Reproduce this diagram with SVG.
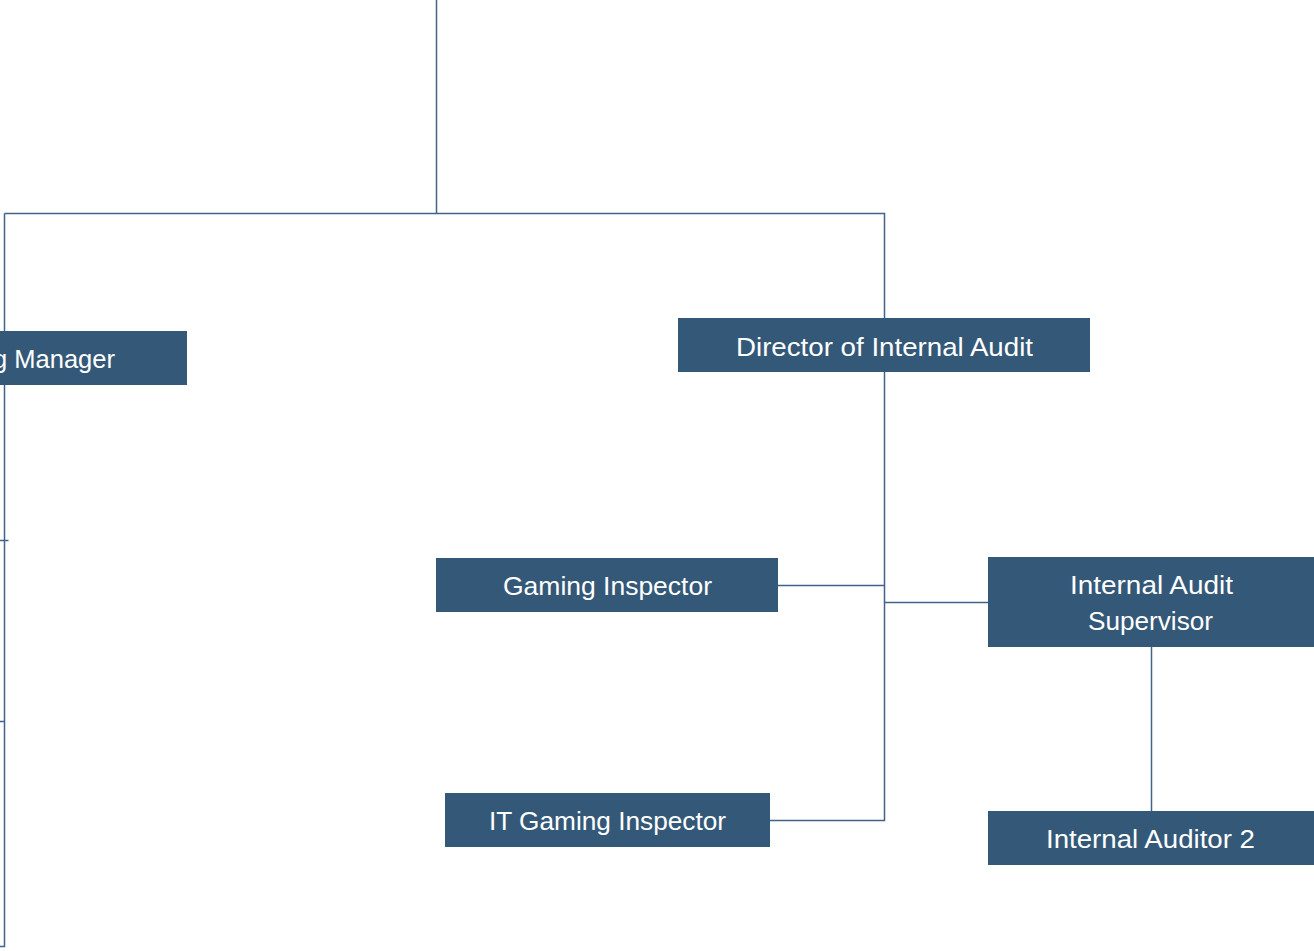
<svg xmlns="http://www.w3.org/2000/svg" width="1314" height="951" viewBox="0 0 1314 951">
<style>
.box{fill:#345878;}
.lbl{font-family:"Liberation Sans",Arial,sans-serif;font-size:25px;fill:#ffffff;text-anchor:middle;}
.conn{fill:none;stroke:#41628A;stroke-width:1.5;}
</style>
<rect width="1314" height="951" fill="#ffffff"/>
<g id="connectors">
<path class="conn" d="M436.5,0 V213.5"/>
<path class="conn" d="M4.5,213.5 H884.5 V318"/>
<path class="conn" d="M4.5,213.5 V946.5 H0"/>
<path class="conn" d="M0,540.5 H8.5"/>
<path class="conn" d="M0,721.5 H4.5"/>
<path class="conn" d="M884.5,372 V820.5 H770"/>
<path class="conn" d="M778,585.5 H884.5"/>
<path class="conn" d="M884.5,602.5 H988"/>
<path class="conn" d="M1151.5,647 V811"/>
</g>
<g id="node-manager">
<rect class="box" x="-200" y="331" width="387" height="54"/>
<text class="lbl" x="-7" y="368" style="text-anchor:start" textLength="122" lengthAdjust="spacingAndGlyphs">g Manager</text>
</g>
<g id="node-director">
<rect class="box" x="678" y="318" width="412" height="54"/>
<text class="lbl" x="884.5" y="356" textLength="297" lengthAdjust="spacingAndGlyphs">Director of Internal Audit</text>
</g>
<g id="node-gaming-inspector">
<rect class="box" x="436" y="558" width="342" height="54"/>
<text class="lbl" x="607.5" y="595" textLength="209" lengthAdjust="spacingAndGlyphs">Gaming Inspector</text>
</g>
<g id="node-ia-supervisor">
<rect class="box" x="988" y="557" width="326" height="90"/>
<text class="lbl" x="1151.5" y="594" textLength="163" lengthAdjust="spacingAndGlyphs">Internal Audit</text>
<text class="lbl" x="1150.5" y="630" textLength="125" lengthAdjust="spacingAndGlyphs">Supervisor</text>
</g>
<g id="node-it-gaming-inspector">
<rect class="box" x="445" y="793" width="325" height="54"/>
<text class="lbl" x="607.5" y="830" textLength="237" lengthAdjust="spacingAndGlyphs">IT Gaming Inspector</text>
</g>
<g id="node-internal-auditor-2">
<rect class="box" x="988" y="811" width="326" height="54"/>
<text class="lbl" x="1150.5" y="848" textLength="209" lengthAdjust="spacingAndGlyphs">Internal Auditor 2</text>
</g>
</svg>
